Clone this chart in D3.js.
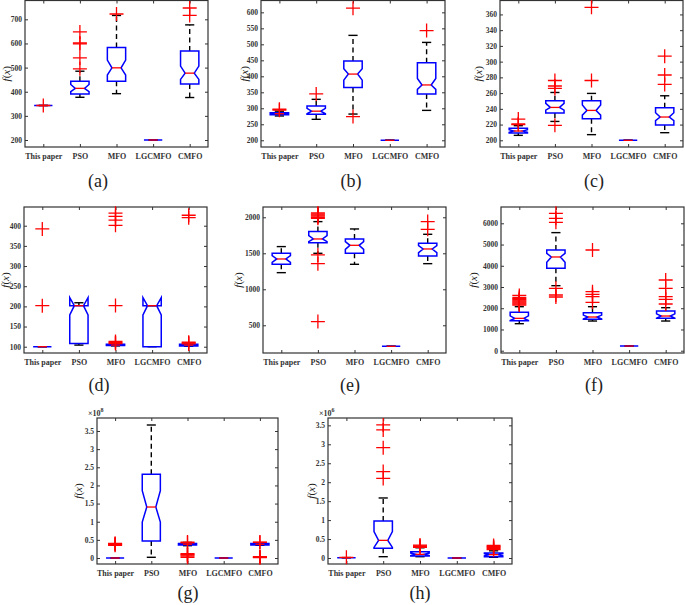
<!DOCTYPE html>
<html><head><meta charset="utf-8">
<script src="https://cdn.jsdelivr.net/npm/d3@7"></script>
<style>body{margin:0;background:#fff}svg{display:block}</style>
</head><body><svg id="c" width="685" height="605"></svg>
<script>
// ---------- DATA ----------
const categories = ["This paper", "PSO", "MFO", "LGCMFO", "CMFO"];
const panelLabels = ["(a)", "(b)", "(c)", "(d)", "(e)", "(f)", "(g)", "(h)"];
const yTicks = [
  [200, 300, 400, 500, 600, 700],
  [200, 250, 300, 350, 400, 450, 500, 550, 600],
  [200, 220, 240, 260, 280, 300, 320, 340, 360],
  [100, 150, 200, 250, 300, 350, 400],
  [500, 1000, 1500, 2000],
  [0, 1000, 2000, 3000, 4000, 5000, 6000],
  [0, 0.5, 1, 1.5, 2, 2.5, 3, 3.5],
  [0, 0.5, 1, 1.5, 2, 2.5, 3, 3.5]
];
const exponents = [null, null, null, null, null, null, "8", "6"];
// per panel, per category (This paper, PSO, MFO, LGCMFO, CMFO)
const q1 = [
  [343, 391, 443, 200, 432],
  [280, 281, 365, 200, 345],
  [209.3, 234.6, 227.5, 200, 219.4],
  [100, 108, 103, 100, 102],
  [1347, 1648, 1500, 208, 1463],
  [1414, 3880, 1477, 220, 1524],
  [0, 0.468, 0.36, 0, 0.36],
  [0.01, 0.255, 0.053, 0, 0.035]
];
const medians = [
  [343, 414, 499, 200, 477],
  [283, 291, 407, 200, 373],
  [211.8, 241.8, 238, 200, 229.6],
  [100, 201.7, 104, 201.7, 104],
  [1421, 1699, 1611, 208, 1560],
  [1524, 4414, 1587, 220, 1634],
  [0, 1.405, 0.38, 0, 0.38],
  [0.01, 0.466, 0.097, 0, 0.088]
];
const q3 = [
  [343, 443, 583, 200, 569],
  [286, 307, 448, 200, 442],
  [215.2, 250.3, 250.3, 200, 241.4],
  [100, 201.7, 106, 201.7, 106],
  [1500, 1801, 1699, 208, 1639],
  [1806, 4744, 1791, 220, 1869],
  [0, 2.306, 0.4, 0, 0.4],
  [0.01, 0.977, 0.167, 0, 0.132]
];
const notchLo = [
  [343, 400, 469, 200, 451],
  [281.3, 283, 388, 200, 359],
  [210.1, 238.4, 232, 200, 225],
  [100, 178.6, 103.1, 178.6, 103.1],
  [1375, 1662, 1555, 208, 1509],
  [1420, 4163, 1496, 220, 1534],
  [0, 0.99, 0.37, 0, 0.37],
  [0.01, 0.28, 0.064, 0, 0.06]
];
const notchHi = [
  [343, 430, 531, 200, 506],
  [284.7, 300, 424, 200, 393],
  [213.5, 246.9, 244.8, 200, 235],
  [100, 221.6, 104.9, 221.6, 104.9],
  [1467, 1745, 1662, 208, 1606],
  [1640, 4587, 1678, 220, 1734],
  [0, 1.856, 0.39, 0, 0.39],
  [0.01, 0.7, 0.13, 0, 0.116]
];
const whiskerLo = [
  [343, 377, 392, 200, 376],
  [276, 265.5, 282, 200, 293.5],
  [206.3, 224, 207.2, 200, 209.7],
  [100, 104, 102, 100, 101],
  [1231, 1500, 1347, 208, 1356],
  [1272, 3063, 1398, 220, 1398],
  [0, 0.02, 0.34, 0, 0.35],
  [0.01, 0.035, 0.035, 0, 0.018]
];
const whiskerHi = [
  [343, 485, 716, 200, 677],
  [291, 328, 528, 200, 506],
  [218.6, 260.8, 259.6, 200, 256.6],
  [100, 209, 108, 201.7, 107],
  [1593, 1940, 1838, 208, 1764],
  [2073, 5561, 2073, 220, 2026],
  [0, 3.665, 0.43, 0, 0.42],
  [0.01, 1.584, 0.27, 0, 0.19]
];
const outliers = [
  [[343], [495, 540, 598, 602, 648], [722], [], [716, 747]],
  [[294, 297], [345], [274, 613], [], [543]],
  [[220, 221, 227], [219, 266, 269, 276], [276, 369], [], [271, 283, 307]],
  [[201.7, 392], [], [108, 110, 113, 202, 401, 414, 423, 431], [], [107, 109, 111, 420, 426]],
  [[], [551, 1356, 1477, 1985, 2000, 2015, 2030, 2045, 2060], [], [], [1833, 1940]],
  [[2150, 2200, 2250, 2300, 2350, 2400, 2450, 2500, 2600], [2529, 2623, 2937, 6048, 6236, 6472], [2278, 2545, 2655, 2780, 4744], [], [2199, 2419, 2545, 2937, 3330]],
  [[0.35, 0.37, 0.39, 0.4], [], [0.02, 0.05, 0.08, 0.1, 0.12, 0.42, 0.44], [], [0.01, 0.02, 0.03, 0.04, 0.43, 0.44]],
  [[0.018], [2.1, 2.28, 2.91, 3.38, 3.51], [0.28, 0.3, 0.32, 0.34], [], [0.22, 0.25, 0.28, 0.3, 0.33]]
];

// ---------- LAYOUT ----------
const layout = [
  {x0: 25, x1: 208, y0: 0.5, y1: 147, dom: [171, 778], cap: [98, 187], yl: 7},
  {x0: 261, x1: 445, y0: 0.5, y1: 147, dom: [179, 637], cap: [351, 187], yl: 245},
  {x0: 500, x1: 683, y0: 0.5, y1: 147, dom: [191.5, 377.7], cap: [594, 187], yl: 479},
  {x0: 24, x1: 207, y0: 207, y1: 353, dom: [84.4, 446.4], cap: [99, 391], yl: 6},
  {x0: 263, x1: 446, y0: 207, y1: 353, dom: [115, 2143], cap: [350, 391], yl: 239},
  {x0: 501, x1: 684, y0: 207, y1: 353, dom: [-108, 6768], cap: [594, 391], yl: 474},
  {x0: 97, x1: 278, y0: 418, y1: 564, dom: [-0.165, 3.858], cap: [188, 599], yl: 79},
  {x0: 328, x1: 512, y0: 418, y1: 564, dom: [-0.158, 3.694], cap: [420, 599], yl: 312}
];

const svg = d3.select("#c");
const SERIF = "'Liberation Serif','DejaVu Serif',serif";

layout.forEach((L, p) => {
  const x = d3.scaleLinear().domain([0.5, 5.5]).range([L.x0, L.x1]);
  const y = d3.scaleLinear().domain(L.dom).range([L.y1, L.y0]);
  const g = svg.append("g");
  const hw = x(1.25) - x(1);      // box half width
  const cw = x(1.125) - x(1);     // cap half width

  const left = g.append("g").attr("transform", `translate(${L.x0},0)`)
    .call(d3.axisLeft(y).tickValues(yTicks[p]).tickSize(-3).tickPadding(3)
      .tickFormat(d => exponents[p] ? d3.format("~g")(d) : d));
  const right = g.append("g").attr("transform", `translate(${L.x1},0)`)
    .call(d3.axisRight(y).tickValues(yTicks[p]).tickSize(-3).tickFormat(""));
  const bottom = g.append("g").attr("transform", `translate(0,${L.y1})`)
    .call(d3.axisBottom(x).tickValues([1, 2, 3, 4, 5]).tickSize(-3).tickPadding(6)
      .tickFormat((d, i) => categories[i]));
  const top = g.append("g").attr("transform", `translate(0,${L.y0})`)
    .call(d3.axisTop(x).tickValues([1, 2, 3, 4, 5]).tickSize(-3).tickFormat(""));
  [left, right, bottom, top].forEach(a => {
    a.select(".domain").remove();
    a.selectAll("line").attr("stroke", "#333").attr("stroke-width", 1);
  });
  left.selectAll("text").attr("font-family", SERIF).attr("font-weight", "bold")
    .attr("font-size", 7.5).attr("fill", "#333");
  bottom.selectAll("text").attr("font-family", SERIF).attr("font-weight", "bold")
    .attr("font-size", 8).attr("fill", "#333");

  g.append("rect").attr("x", L.x0).attr("y", L.y0)
    .attr("width", L.x1 - L.x0).attr("height", L.y1 - L.y0)
    .attr("fill", "none").attr("stroke", "#333").attr("stroke-width", 1.2);

  if (exponents[p]) {
    const t = g.append("text").attr("x", L.x0 - 9).attr("y", L.y0 - 2)
      .attr("font-family", SERIF).attr("font-weight", "bold").attr("font-size", 8).attr("fill", "#333");
    t.append("tspan").text("×10");
    t.append("tspan").attr("dy", -4).attr("font-size", 6).text(exponents[p]);
  }

  const yl = g.append("text")
    .attr("transform", `translate(${L.yl},${(L.y0 + L.y1) / 2}) rotate(-90)`)
    .attr("text-anchor", "middle").attr("dominant-baseline", "middle")
    .attr("font-family", SERIF).attr("font-size", 11).attr("fill", "#222");
  yl.append("tspan").attr("font-style", "italic").text("f");
  yl.append("tspan").text("(");
  yl.append("tspan").attr("font-style", "italic").text("x");
  yl.append("tspan").text(")");

  g.append("text").attr("x", L.cap[0]).attr("y", L.cap[1]).attr("text-anchor", "middle")
    .attr("font-family", SERIF).attr("font-size", 18).attr("fill", "#222").text(panelLabels[p]);

  categories.forEach((c, i) => {
    const cx = x(i + 1);
    const Q1 = q1[p][i], Q3 = q3[p][i], M = medians[p][i];
    const NL = notchLo[p][i], NH = notchHi[p][i];
    const WL = whiskerLo[p][i], WH = whiskerHi[p][i];
    g.append("line").attr("x1", cx).attr("x2", cx).attr("y1", y(Q3)).attr("y2", y(WH))
      .attr("stroke", "#000").attr("stroke-width", 1.4).attr("stroke-dasharray", "5,3.5");
    g.append("line").attr("x1", cx).attr("x2", cx).attr("y1", y(Q1)).attr("y2", y(WL))
      .attr("stroke", "#000").attr("stroke-width", 1.4).attr("stroke-dasharray", "5,3.5");
    [WL, WH].forEach(v => g.append("line").attr("x1", cx - cw).attr("x2", cx + cw)
      .attr("y1", y(v)).attr("y2", y(v)).attr("stroke", "#000").attr("stroke-width", 1.4));
    const xl = cx - hw, xr = cx + hw, xil = cx - hw / 2, xir = cx + hw / 2;
    const pts = [[xl, Q1], [xl, NL], [xil, M], [xl, NH], [xl, Q3], [xr, Q3], [xr, NH], [xir, M], [xr, NL], [xr, Q1]]
      .map(d => [d[0], y(d[1])]);
    g.append("path").attr("d", d3.line()(pts) + "Z")
      .attr("fill", "none").attr("stroke", "#0000ff").attr("stroke-width", 1.5);
    g.append("line").attr("x1", xil).attr("x2", xir).attr("y1", y(M)).attr("y2", y(M))
      .attr("stroke", "#ff0000").attr("stroke-width", 1.3);
    outliers[p][i].forEach(v => {
      const yy = y(v), s = 7;
      g.append("path").attr("d", `M${cx - s},${yy}H${cx + s}M${cx},${yy - s}V${yy + s}`)
        .attr("stroke", "#ff0000").attr("stroke-width", 1.3).attr("fill", "none");
    });
  });
});
</script></body></html>
